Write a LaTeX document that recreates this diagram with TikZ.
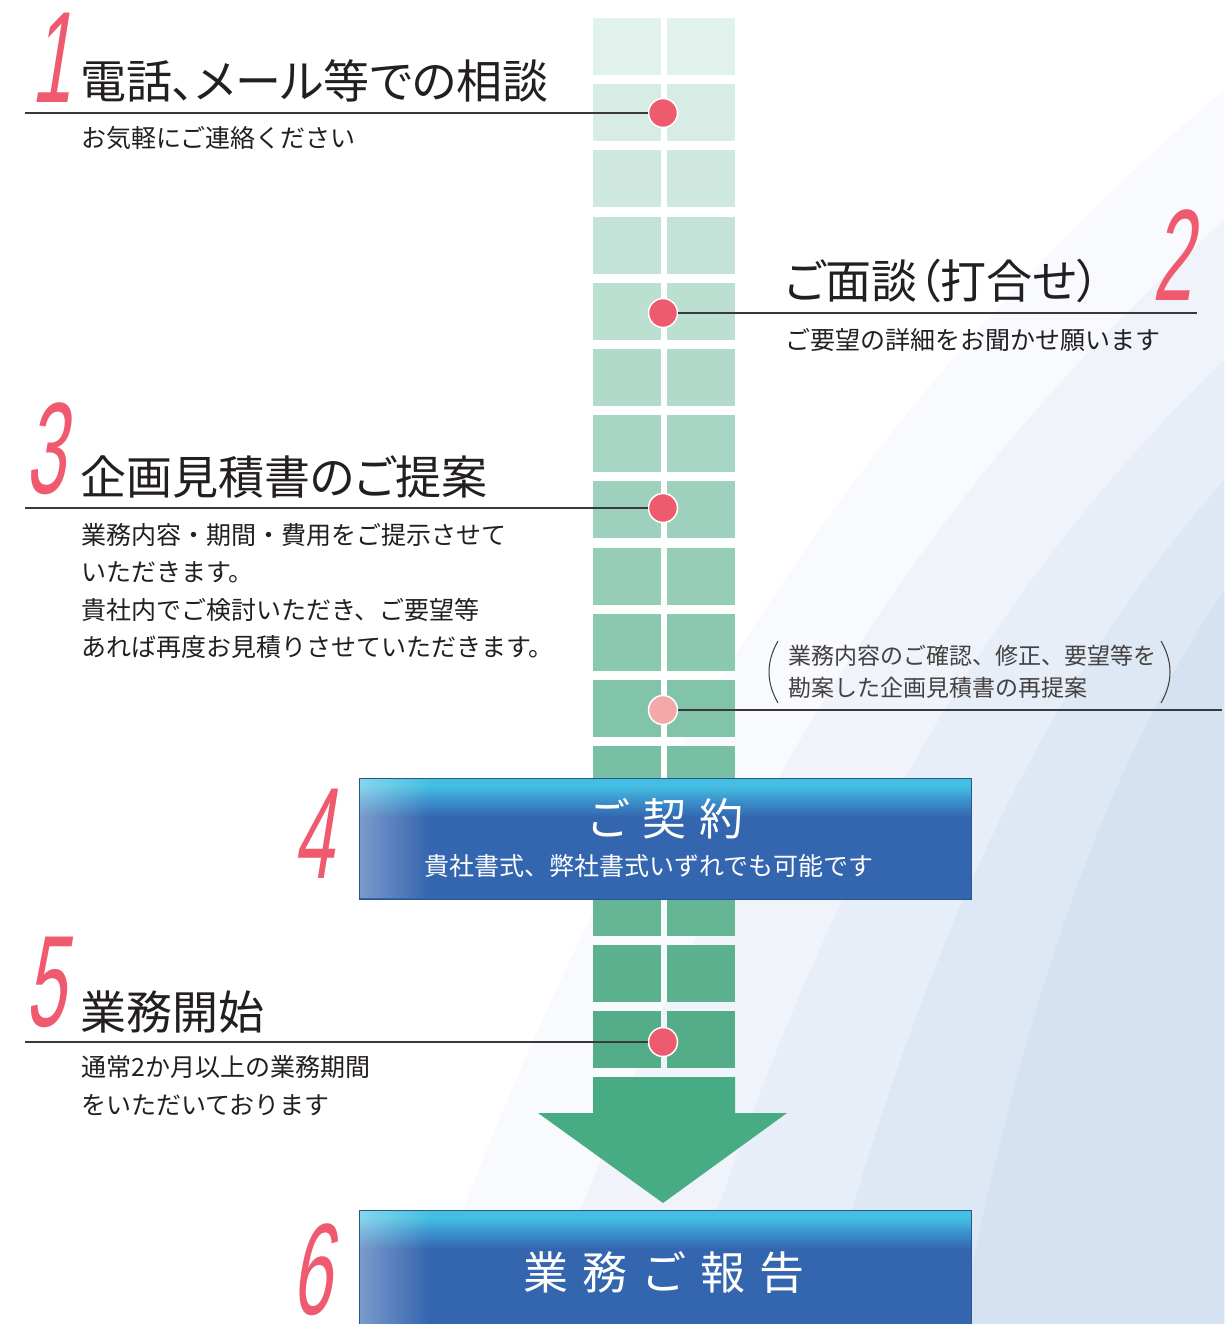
\documentclass[tikz,border=0pt]{standalone}
\usepackage{fontspec}
\usetikzlibrary{fadings}
\newfontfamily\jp{Noto Sans CJK JP}
\newfontfamily\jpp[RawFeature=+palt]{Noto Sans CJK JP}
\newfontfamily\numf[FakeStretch=0.55,FakeSlant=0.16]{Liberation Sans}
\definecolor{pinknum}{HTML}{EF5A6F}
\definecolor{dotpink}{HTML}{EE5A6E}
\definecolor{dotlight}{HTML}{F4A8A8}
\definecolor{colA}{HTML}{E1F1EC}
\definecolor{colB}{HTML}{52AD88}
\definecolor{arrowgreen}{HTML}{47AC84}
\definecolor{linegray}{HTML}{3A3A3A}
\definecolor{txt}{HTML}{231F20}
\definecolor{boxblue}{HTML}{3465AF}
\definecolor{boxcyan}{HTML}{44BFE2}
\definecolor{boxmid}{HTML}{3B92CC}
\definecolor{boxedge}{HTML}{2A5590}
\definecolor{bgA}{HTML}{F8FAFD}
\definecolor{bgB}{HTML}{F0F4FA}
\definecolor{bgC}{HTML}{E7EEF7}
\definecolor{bgD}{HTML}{DDE8F4}
\definecolor{bgE}{HTML}{D4E2F2}
\pgfdeclareverticalshading{boxshade}{100bp}{color(0bp)=(boxblue); color(25bp)=(boxblue); color(59bp)=(boxblue); color(66bp)=(boxmid); color(72bp)=(boxcyan); color(75bp)=(boxcyan); color(100bp)=(boxcyan)}
\tikzfading[name=fadeR, left color=transparent!0, right color=transparent!100]
\tikzset{
  title/.style={font=\jpp\fontsize{46}{50}\selectfont, text=txt, inner sep=0pt, anchor=base west},
  subtxt/.style={font=\jp\fontsize{25}{37.5}\selectfont, text=txt, inner sep=0pt, anchor=base west, align=left},
  partxt/.style={font=\jp\fontsize{23}{32}\selectfont, text=txt!85, inner sep=0pt, anchor=base west, align=left},
  numst/.style={font=\numf\fontsize{130}{130}\selectfont, text=pinknum, inner sep=0pt, anchor=base west},
  dotst/.style={circle, fill=dotpink, draw=white, line width=1.5pt, minimum size=29pt, inner sep=0pt},
  sepline/.style={draw=linegray, line width=1.3pt},
  bluebox/.style={shade, shading=boxshade, draw=boxedge, line width=1pt, minimum width=612pt, minimum height=121pt, anchor=north west, inner sep=0pt},
  boxtitle/.style={font=\jp\fontsize{44}{48}\selectfont, text=white, inner sep=0pt, anchor=base},
  boxsub/.style={font=\jp\fontsize{25}{30}\selectfont, text=white, inner sep=0pt, anchor=base},
}
\begin{document}
\begin{tikzpicture}[x=1pt, y=-1pt]
\useasboundingbox (0,0) rectangle (1224,1324);
\clip (0,0) rectangle (1224,1324);
% background
\fill[white] (0,0) rectangle (1224,1324);
\fill[bgA] (1224,90) .. controls (862,398) and (621,769) .. (420,1324) -- (1224,1324) -- cycle;
\fill[bgB] (1224,220) .. controls (912,500) and (711,830) .. (540,1324) -- (1224,1324) -- cycle;
\fill[bgC] (1224,360) .. controls (976,600) and (816,890) .. (680,1324) -- (1224,1324) -- cycle;
\fill[bgD] (1224,480) .. controls (1040,690) and (921,945) .. (820,1324) -- (1224,1324) -- cycle;
\fill[bgE] (1224,590) .. controls (1103,773) and (1026,994) .. (960,1324) -- (1224,1324) -- cycle;
% column cells
\foreach \i in {0,...,15}{
  \pgfmathsetmacro\p{\i/15*100}
  \pgfmathsetmacro\yy{18+66.2*\i}
  \fill[colB!\p!colA] (593,\yy) rectangle ++(68,57);
  \fill[colB!\p!colA] (667,\yy) rectangle ++(68,57);
}
% big arrow
\fill[arrowgreen] (593,1077) -- (735,1077) -- (735,1113) -- (787,1113) -- (663,1203) -- (538,1113) -- (593,1113) -- cycle;
% dots
\node[dotst] (d1) at (663,113) {};
\node[dotst] (d2) at (663,313) {};
\node[dotst] (d3) at (663,508) {};
\node[dotst, fill=dotlight] (d4) at (663,710) {};
\node[dotst] (d5) at (663,1042) {};
% line ends
\coordinate (e1) at (25,113);
\coordinate (e2) at (1197,313);
\coordinate (e3) at (25,508);
\coordinate (e4) at (1222,710);
\coordinate (e5) at (25,1042);
\draw[sepline] (e1) -- (d1.west);
\draw[sepline] (d2.east) -- (e2);
\draw[sepline] (e3) -- (d3.west);
\draw[sepline] (d4.east) -- (e4);
\draw[sepline] (e5) -- (d5.west);
% step 1
\node[numst] (n1) at (31,103) {1};
\node[title] (t1) at (80,99) {電話、メール等での相談};
\node[subtxt] (s1) at (81,148) {お気軽にご連絡ください};
% step 2
\node[numst] (n2) at (1152,300) {2};
\node[title] (t2) at (785,298) {ご面談（打合せ）};
\node[subtxt] (s2) at (785,349) {ご要望の詳細をお聞かせ願います};
% step 3
\node[numst] (n3) at (25,493) {3};
\node[title] (t3) at (80,494) {企画見積書のご提案};
\node[subtxt] (s3a) at (81,544) {業務内容・期間・費用をご提示させて};
\node[subtxt] (s3b) at (81,581) {いただきます。};
\node[subtxt] (s3c) at (81,619) {貴社内でご検討いただき、ご要望等};
\node[subtxt] (s3d) at (81,656) {あれば再度お見積りさせていただきます。};
% re-proposal note
\node[partxt] (p1) at (788,664) {業務内容のご確認、修正、要望等を};
\node[partxt] (p2) at (788,696) {勘案した企画見積書の再提案};
\draw[linegray, line width=1pt] (778,641) .. controls (766,662) and (766,682) .. (778,703);
\draw[linegray, line width=1pt] (1161,641) .. controls (1173,662) and (1173,682) .. (1161,703);
% step 4 box
\node[bluebox] (b4) at (359,778) {};
\fill[white, opacity=0.35, path fading=fadeR] (360,779) rectangle (430,898);
\node[numst] (n4) at (293,878) {4};
\node[boxtitle] (bt4) at (665,835) {ご\hspace{13pt}契\hspace{13pt}約};
\node[boxsub] (bs4) at (649,875) {貴社書式、弊社書式いずれでも可能です};
% step 5
\node[numst] (n5) at (25,1026) {5};
\node[title] (t5) at (80,1029) {業務開始};
\node[subtxt] (s5a) at (81,1076) {通常2か月以上の業務期間};
\node[subtxt] (s5b) at (81,1114) {をいただいております};
% step 6 box
\node[bluebox] (b6) at (359,1210) {};
\fill[white, opacity=0.35, path fading=fadeR] (360,1211) rectangle (430,1330);
\node[numst] (n6) at (291,1314) {6};
\node[boxtitle, font=\jp\fontsize{45}{48}\selectfont] (bt6) at (664,1289) {業\hspace{14pt}務\hspace{14pt}ご\hspace{14pt}報\hspace{14pt}告};
\end{tikzpicture}
\end{document}
